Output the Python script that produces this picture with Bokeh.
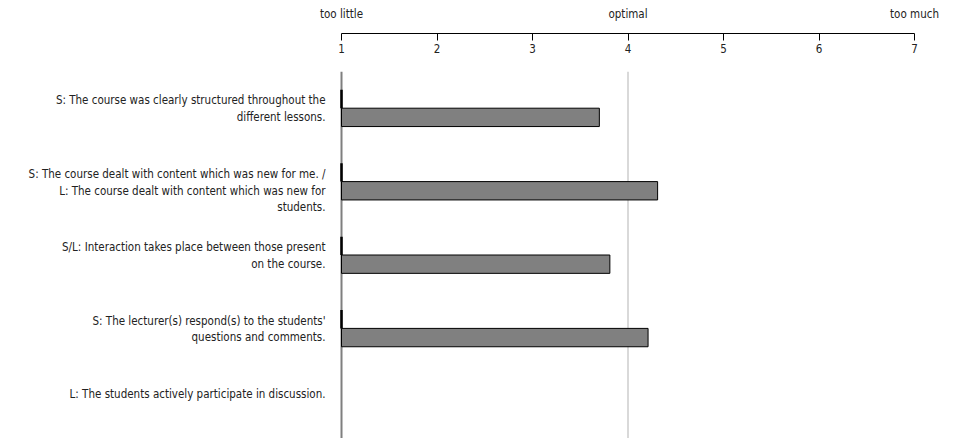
from bokeh.plotting import figure
from bokeh.layouts import column
from bokeh.models import Range1d, FixedTicker, LinearAxis, Span, ColumnDataSource
from bokeh.core.properties import value
from bokeh.embed import file_html
from bokeh.resources import INLINE

# ---- data ----
items = [
    "S: The course was clearly structured throughout the\ndifferent lessons.",
    "S: The course dealt with content which was new for me. /\nL: The course dealt with content which was new for\nstudents.",
    "S/L: Interaction takes place between those present\non the course.",
    "S: The lecturer(s) respond(s) to the students'\nquestions and comments.",
    "L: The students actively participate in discussion.",
]
rows = [1, 2, 3, 4, 5]
means_main = [3.70, 4.31, 3.81, 4.21, float("nan")]
means_other = [1.0, 1.0, 1.0, 1.0, float("nan")]
scale_ticks = [1, 2, 3, 4, 5, 6, 7]
anchor_ticks = [1, 4, 7]
anchor_labels = ["too little", "optimal", "too much"]
optimal = 4

FONT = "DejaVu Sans Condensed"
FS = "11.5px"
W = 944
x_range = Range1d(-2.5707, 7.314)

# ---- top scale ----
top = figure(width=W, height=71, x_range=x_range, y_range=Range1d(0, 1),
             output_backend="svg", toolbar_location=None,
             x_axis_location="below", y_axis_location=None,
             min_border_left=0, min_border_right=0, min_border_top=24, min_border_bottom=38)
top.grid.visible = False
top.outline_line_color = None
xa = top.xaxis[0]
xa.ticker = FixedTicker(ticks=scale_ticks)
xa.bounds = (1, 7)
xa.axis_line_color = "#000000"
xa.major_tick_line_color = "#000000"
xa.major_tick_in = 0
xa.major_tick_out = 7
xa.minor_tick_line_color = None
xa.major_label_standoff = 3
xa.major_label_text_font = FONT
xa.major_label_text_font_size = FS
xa.major_label_text_color = "#222222"

ax2 = LinearAxis(ticker=FixedTicker(ticks=anchor_ticks),
                 major_label_overrides={t: s for t, s in zip(anchor_ticks, anchor_labels)},
                 axis_line_color=None, major_tick_line_color=None, minor_tick_line_color=None,
                 major_tick_in=0, major_tick_out=0, major_label_standoff=4,
                 major_label_text_font=FONT, major_label_text_font_size=FS,
                 major_label_text_color="#222222")
top.add_layout(ax2, "above")

# ---- bars ----
p = figure(width=W, height=367, x_range=x_range, y_range=Range1d(5.5, 0.5),
           output_backend="svg", toolbar_location=None,
           x_axis_location=None, y_axis_location=None,
           min_border_left=0, min_border_right=0, min_border_top=0, min_border_bottom=0)
p.grid.visible = False
p.outline_line_color = None

p.add_layout(Span(location=optimal, dimension="height", line_color="#d9d9d9",
                  line_width=2, level="underlay"))
p.add_layout(Span(location=scale_ticks[0], dimension="height", line_color="#7f7f7f",
                  line_width=2, level="underlay"))

src = ColumnDataSource(dict(
    y_main=[r + 0.125 for r in rows], y_other=[r - 0.125 for r in rows],
    main=means_main, other=means_other,
    left=[scale_ticks[0]] * len(rows)))
p.hbar(y="y_main", left="left", right="main", height=0.25, source=src,
       fill_color="#808080", line_color="#000000", line_width=1)
p.hbar(y="y_other", left="left", right="other", height=0.25, source=src,
       fill_color="#000000", line_color="#000000", line_width=2.5)

lsrc = ColumnDataSource(dict(
    x=[scale_ticks[0]] * len(rows), y=rows, text=items,
    yoff=[-8 + 8.5 * t.count("\n") for t in items]))
p.text(x="x", y="y", text="text", source=lsrc, x_offset=-16, y_offset="yoff",
       text_align="right", text_baseline="middle", text_font=value(FONT),
       text_font_size=FS, text_color="#222222", text_line_height=1.2)

layout = column(top, p, spacing=0)
open("out.html", "w").write(file_html(layout, INLINE))
